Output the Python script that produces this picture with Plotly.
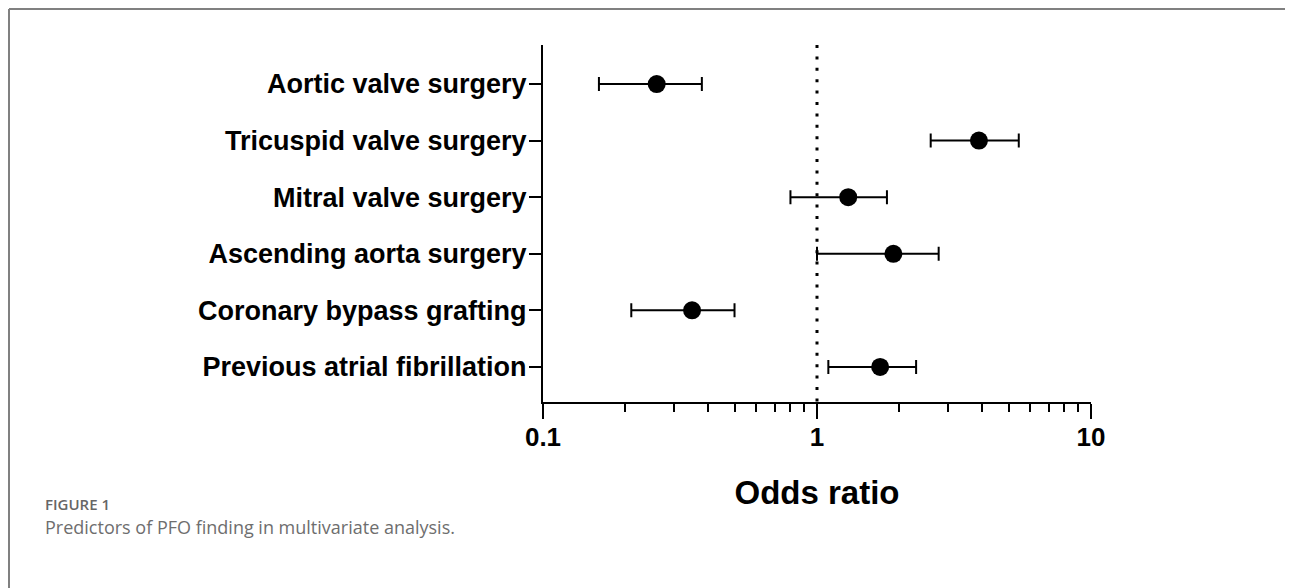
import plotly.graph_objects as go

# ---- data ----
categories = [
    "Aortic valve surgery",
    "Tricuspid valve surgery",
    "Mitral valve surgery",
    "Ascending aorta surgery",
    "Coronary bypass grafting",
    "Previous atrial fibrillation",
]
odds_ratio = [0.26, 3.9, 1.3, 1.9, 0.35, 1.7]
ci_low = [0.16, 2.6, 0.80, 1.0, 0.21, 1.1]
ci_high = [0.38, 5.45, 1.80, 2.78, 0.50, 2.3]
x_tick_vals = [0.1, 1, 10]
x_tick_text = ["0.1", "1", "10"]
x_minor_vals = [0.2, 0.3, 0.4, 0.5, 0.6, 0.7, 0.8, 0.9, 2, 3, 4, 5, 6, 7, 8, 9]
reference_line = 1

# ---- layout geometry (page has an 8px body margin) ----
OFF = 8
W, H = 1293 - OFF, 588 - OFF
# plot area in screen pixels: x 543..1091, y 45..402
L, T = 543 - OFF, 45 - OFF
R, B = W - (1091 - OFF), H - (402 - OFF)
PW, PH = W - L - R, H - T - B
y_lo, y_hi = -0.69, 5.62


def px_x(sx):
    return (sx - OFF - L) / PW


def px_y(sy):
    return (H - B - (sy - OFF)) / PH


y_pos = list(range(len(categories)))
err_plus = [h - o for h, o in zip(ci_high, odds_ratio)]
err_minus = [o - l for o, l in zip(odds_ratio, ci_low)]

fig = go.Figure()

# reference dotted line at OR = 1
fig.add_trace(go.Scatter(
    x=[reference_line, reference_line], y=[y_lo, y_hi],
    mode="lines", line=dict(color="black", width=3, dash="3px,8.4px"),
    hoverinfo="skip", showlegend=False,
))

fig.add_trace(go.Scatter(
    x=odds_ratio, y=y_pos, mode="markers",
    marker=dict(color="black", size=18),
    error_x=dict(type="data", symmetric=False, array=err_plus, arrayminus=err_minus,
                 color="black", thickness=2, width=7),
    showlegend=False,
))

font_main = "Liberation Sans, Arial, sans-serif"

fig.update_xaxes(
    type="log", range=[-1, 1],
    showline=True, linecolor="black", linewidth=2,
    ticks="outside", ticklen=15, tickwidth=2, tickcolor="black",
    tickvals=x_tick_vals, ticktext=x_tick_text, ticklabelstandoff=-4,
    tickfont=dict(family=font_main, size=26, color="black", weight="bold"),
    minor=dict(tickvals=x_minor_vals, ticks="outside", ticklen=8, tickwidth=2, tickcolor="black",
               showgrid=False),
    showgrid=False, zeroline=False,
    title=dict(text="Odds ratio", standoff=30,
               font=dict(family=font_main, size=33, color="black", weight="bold")),
)
fig.update_yaxes(
    range=[y_hi, y_lo],
    showline=True, linecolor="black", linewidth=2,
    ticks="outside", ticklen=12, tickwidth=2, tickcolor="black",
    tickvals=y_pos, ticktext=categories, ticklabelstandoff=-3,
    tickfont=dict(family=font_main, size=27, color="black", weight="bold"),
    showgrid=False, zeroline=False,
)

# figure frame (top and left rules)
frame_color = "#808080"
fig.add_shape(type="line", xref="paper", yref="paper",
              x0=px_x(9), x1=px_x(1293 + 5), y0=px_y(9), y1=px_y(9),
              line=dict(color=frame_color, width=2))
fig.add_shape(type="line", xref="paper", yref="paper",
              x0=px_x(9), x1=px_x(9), y0=px_y(9), y1=px_y(588 + 5),
              line=dict(color=frame_color, width=2))

fig.add_annotation(xref="paper", yref="paper", x=px_x(43), y=px_y(504),
                   xanchor="left", yanchor="middle", showarrow=False,
                   text="FIGURE 1",
                   font=dict(family="Open Sans, sans-serif", size=15, color="#666666", weight=600))
fig.add_annotation(xref="paper", yref="paper", x=px_x(43), y=px_y(527),
                   xanchor="left", yanchor="middle", showarrow=False,
                   text="Predictors of PFO finding in multivariate analysis.",
                   font=dict(family="Open Sans, sans-serif", size=18, color="#6e6e6e"))

fig.update_layout(
    width=W, height=H,
    margin=dict(l=L, r=R, t=T, b=B, autoexpand=False),
    plot_bgcolor="white", paper_bgcolor="white",
    showlegend=False,
)

fig.write_html("out.html")
